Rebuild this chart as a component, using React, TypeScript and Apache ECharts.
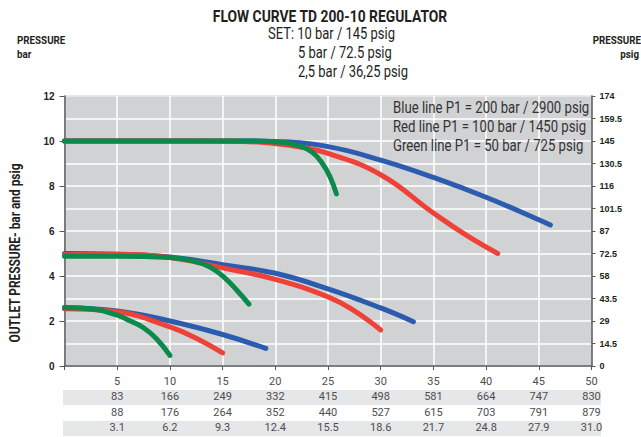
import React, { useEffect, useRef } from "react";
import * as echarts from "echarts";

// Flow values (x axis) and conversion rows of the table
const flowTicks = [5, 10, 15, 20, 25, 30, 35, 40, 45, 50];
const row2 = ["83", "166", "249", "332", "415", "498", "581", "664", "747", "830"];
const row3 = ["88", "176", "264", "352", "440", "527", "615", "703", "791", "879"];
const row4 = ["3.1", "6.2", "9.3", "12.4", "15.5", "18.6", "21.7", "24.8", "27.9", "31.0"];
const psigTicks = ["0", "14.5", "29", "43.5", "58", "72.5", "87", "101.5", "116", "130.5", "145", "159.5", "174"];

// Curves [flow, bar]
const blueHigh = [[0, 10], [12, 10], [18, 10], [20, 9.98], [25, 9.75], [30, 9.15], [35, 8.38], [40, 7.5], [45, 6.5], [46.1, 6.27]];
const redHigh = [[0, 10], [12, 10], [17, 9.98], [20, 9.88], [22.5, 9.72], [25, 9.45], [30, 8.5], [35, 6.8], [38, 5.85], [41.1, 5.0]];
const greenHigh = [[0, 10], [12, 10], [17, 10], [20, 9.96], [22, 9.82], [23.5, 9.5], [24.5, 8.98], [25.2, 8.4], [25.8, 7.65]];

const blueMid = [[0, 5.0], [5, 4.97], [10, 4.84], [15, 4.5], [20, 4.12], [25, 3.43], [30, 2.58], [33.1, 1.97]];
const redMid = [[0, 4.95], [5, 4.97], [10, 4.82], [15, 4.36], [20, 3.85], [25, 3.07], [27.5, 2.45], [30, 1.6]];
const greenMid = [[0, 4.88], [5, 4.88], [10, 4.82], [12.2, 4.67], [13.8, 4.4], [15.1, 3.96], [16.35, 3.37], [17.5, 2.75]];

const blueLow = [[0, 2.6], [5, 2.44], [10, 2.0], [15, 1.4], [19.1, 0.78]];
const redLow = [[0, 2.55], [5, 2.41], [10, 1.74], [12.5, 1.23], [15, 0.58]];
const greenLow = [[0, 2.59], [2.7, 2.53], [5, 2.26], [6.25, 2.0], [7.5, 1.7], [8.75, 1.2], [10, 0.47]];

const BLUE = "#2c5caf";
const RED = "#ee4137";
const GREEN = "#0b8a4b";
const SANS = "Roboto, 'Liberation Sans', Arial, sans-serif";
const BOLDFONT = "'Liberation Sans', Arial, sans-serif";

function txt(text: string, x: number, y: number, o: any = {}) {
  return {
    type: "text",
    x,
    y,
    z: o.z ?? 10,
    rotation: o.rotation ?? 0,
    scaleX: o.scaleX ?? 0.8,
    style: {
      text,
      fontFamily: SANS,
      fontWeight: o.bold ? "bold" : "normal",
      fontSize: o.size ?? 15,
      fill: o.color ?? "#231f20",
      align: o.align ?? "left",
      verticalAlign: "middle",
    },
  };
}

export default function App() {
  const ref = useRef<HTMLDivElement>(null);
  useEffect(() => {
    if (!ref.current) return;
    const chart = echarts.init(ref.current, undefined, { renderer: "svg" });
    const mk = (name: string, data: number[][], color: string) => ({
      name,
      type: "line",
      data,
      smooth: 0.45,
      showSymbol: false,
      symbol: "none",
      lineStyle: { color, width: 5, cap: "round", join: "round" },
      z: 3,
    });
    chart.setOption({
      animation: false,
      backgroundColor: "#ffffff",
      grid: { left: 64.5, right: 49.5, top: 96, bottom: 71, show: true, backgroundColor: "#d1d2d4", borderColor: "#58595b", borderWidth: 1 },
      xAxis: {
        type: "value",
        min: 0,
        max: 50,
        interval: 5,
        axisLine: { show: true, lineStyle: { color: "#58595b", width: 1.5 } },
        axisTick: { show: true, length: 4, inside: false, lineStyle: { color: "#58595b" } },
        splitLine: { show: true, lineStyle: { color: "#ffffff", width: 1.5 } },
        axisLabel: {
          margin: 8,
          fontFamily: SANS,
          fontSize: 11,
          color: "#4d4d4f",
          lineHeight: 15.3,
          formatter: (v: number) => {
            const i = flowTicks.indexOf(v);
            if (i < 0) return "";
            return [String(flowTicks[i]), row2[i], row3[i], row4[i]].join("\n");
          },
        },
      },
      yAxis: [
        {
          type: "value",
          min: 0,
          max: 12,
          interval: 2,
          position: "left",
          axisLine: { show: true, lineStyle: { color: "#58595b", width: 1.5 } },
          axisTick: { show: true, length: 5, lineStyle: { color: "#58595b" } },
          splitLine: { show: false },
          axisLabel: { fontFamily: BOLDFONT, fontWeight: "bold", fontSize: 10, color: "#231f20", margin: 10 },
        },
        {
          type: "value",
          min: 0,
          max: 174,
          interval: 14.5,
          position: "right",
          axisLine: { show: true, lineStyle: { color: "#58595b", width: 1.5 } },
          axisTick: { show: true, length: 4, lineStyle: { color: "#58595b" } },
          splitLine: { show: true, lineStyle: { color: "#ffffff", width: 1.5 } },
          axisLabel: {
            fontFamily: BOLDFONT,
            fontWeight: "bold",
            fontSize: 9,
            color: "#231f20",
            margin: 8,
            formatter: (_v: number, idx: number) => psigTicks[idx] ?? "",
          },
        },
      ],
      graphic: [
        { type: "rect", z: 0, shape: { x: 63, y: 390, width: 538, height: 15 }, style: { fill: "#e6e7e8" } },
        { type: "rect", z: 0, shape: { x: 63, y: 421, width: 538, height: 15 }, style: { fill: "#e6e7e8" } },
        txt("FLOW CURVE TD 200-10 REGULATOR", 330, 17, { bold: true, size: 17, align: "center", scaleX: 0.815 }),
        txt("SET: 10 bar / 145 psig", 268, 34, { size: 16, scaleX: 0.81 }),
        txt("5 bar / 72.5 psig", 298, 53, { size: 16, scaleX: 0.81 }),
        txt("2,5 bar / 36,25 psig", 298, 72, { size: 16, scaleX: 0.81 }),
        txt("PRESSURE", 17, 40, { bold: true, size: 11, scaleX: 0.89 }),
        txt("bar", 17, 54, { bold: true, size: 11, scaleX: 0.89 }),
        txt("PRESSURE", 641, 40, { bold: true, size: 11, scaleX: 0.89, align: "right" }),
        txt("psig", 639, 54, { bold: true, size: 11, scaleX: 0.89, align: "right" }),
        txt("OUTLET PRESSURE- bar and psig", 15, 253, { bold: true, size: 14, scaleX: 0.85, align: "center", rotation: Math.PI / 2 }),
        txt("Blue line P1 = 200 bar / 2900 psig", 393, 108, { size: 16, color: "#333333", scaleX: 0.823 }),
        txt("Red line P1 = 100 bar / 1450 psig", 393, 127, { size: 16, color: "#333333", scaleX: 0.823 }),
        txt("Green line P1 = 50 bar / 725 psig", 393, 146, { size: 16, color: "#333333", scaleX: 0.823 }),
      ],
      series: [
        mk("Blue 10", blueHigh, BLUE),
        mk("Red 10", redHigh, RED),
        mk("Green 10", greenHigh, GREEN),
        mk("Blue 5", blueMid, BLUE),
        mk("Red 5", redMid, RED),
        mk("Green 5", greenMid, GREEN),
        mk("Blue 2.5", blueLow, BLUE),
        mk("Red 2.5", redLow, RED),
        mk("Green 2.5", greenLow, GREEN),
      ],
    });
    return () => chart.dispose();
  }, []);
  return <div ref={ref} style={{ position: "absolute", left: 0, top: 0, width: 641, height: 437 }} />;
}
